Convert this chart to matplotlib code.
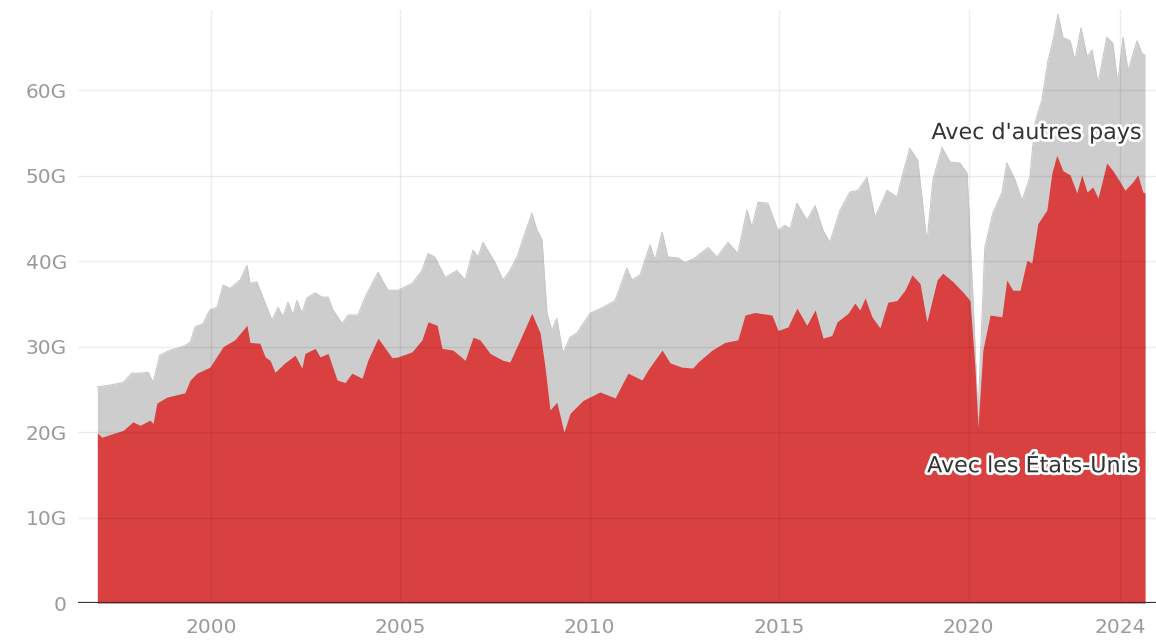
import matplotlib
matplotlib.use("Agg")
import matplotlib.pyplot as plt
import matplotlib.patheffects as pe

plt.rcParams['font.family'] = ['DejaVu Sans']

# Exports to the United States (G$), decimal-year dates
us_dates = [1997.0, 1997.12, 1997.39, 1997.68, 1997.94, 1998.13, 1998.39, 1998.47, 1998.57, 1998.84,
            1999.31, 1999.45, 1999.63, 1999.97, 2000.32, 2000.63, 2000.95, 2001.03, 2001.29, 2001.43,
            2001.56, 2001.69, 2001.95, 2002.22, 2002.40, 2002.48, 2002.75, 2002.88, 2003.09, 2003.33,
            2003.54, 2003.72, 2003.99, 2004.14, 2004.41, 2004.78, 2004.94, 2005.31, 2005.57, 2005.73,
            2005.97, 2006.10, 2006.39, 2006.71, 2006.92, 2007.10, 2007.37, 2007.71, 2007.89, 2008.16,
            2008.47, 2008.69, 2008.82, 2008.95, 2009.13, 2009.32, 2009.48, 2009.82, 2010.27, 2010.67,
            2011.01, 2011.38, 2011.54, 2011.91, 2012.12, 2012.43, 2012.72, 2012.86, 2013.23, 2013.57,
            2013.91, 2014.10, 2014.36, 2014.81, 2014.97, 2015.23, 2015.47, 2015.73, 2015.95, 2016.16,
            2016.39, 2016.53, 2016.82, 2017.00, 2017.13, 2017.27, 2017.45, 2017.66, 2017.87, 2018.11,
            2018.32, 2018.51, 2018.72, 2018.90, 2019.17, 2019.32, 2019.59, 2019.85, 2020.04, 2020.17,
            2020.25, 2020.38, 2020.57, 2020.88, 2021.01, 2021.17, 2021.36, 2021.54, 2021.67, 2021.83,
            2022.07, 2022.20, 2022.33, 2022.49, 2022.68, 2022.86, 2022.99, 2023.13, 2023.28, 2023.42,
            2023.65, 2023.81, 2024.00, 2024.13, 2024.34, 2024.47, 2024.60, 2024.66]
us_values = [19.9, 19.4, 19.8, 20.2, 21.2, 20.8, 21.4, 21.0, 23.4, 24.1,
             24.6, 26.1, 26.9, 27.6, 30.0, 30.8, 32.5, 30.5, 30.4, 28.8,
             28.4, 27.0, 28.1, 29.0, 27.5, 29.2, 29.8, 28.8, 29.2, 26.1,
             25.8, 26.9, 26.3, 28.4, 31.0, 28.7, 28.8, 29.4, 30.8, 32.9,
             32.5, 29.8, 29.6, 28.4, 31.1, 30.8, 29.2, 28.4, 28.2, 30.8,
             33.9, 31.6, 27.6, 22.6, 23.5, 20.0, 22.2, 23.7, 24.7, 24.0,
             26.9, 26.1, 27.3, 29.6, 28.1, 27.6, 27.5, 28.2, 29.6, 30.5,
             30.8, 33.7, 34.0, 33.7, 31.9, 32.3, 34.5, 32.5, 34.3, 31.0,
             31.3, 32.9, 33.9, 35.1, 34.3, 35.7, 33.5, 32.2, 35.2, 35.4,
             36.6, 38.4, 37.4, 32.9, 37.8, 38.6, 37.6, 36.4, 35.4, 27.6,
             20.6, 29.6, 33.7, 33.5, 37.8, 36.6, 36.6, 40.1, 39.8, 44.4,
             46.0, 50.3, 52.4, 50.6, 50.1, 48.0, 50.1, 48.1, 48.7, 47.4,
             51.5, 50.6, 49.3, 48.3, 49.3, 50.1, 48.1, 48.0]

# Total exports, all countries (G$)
total_dates = [1997.0, 1997.33, 1997.68, 1997.91, 1998.13, 1998.34, 1998.47, 1998.65, 1998.92, 1999.26,
               1999.45, 1999.58, 1999.79, 1999.97, 2000.16, 2000.32, 2000.50, 2000.77, 2000.95, 2001.03,
               2001.21, 2001.43, 2001.61, 2001.77, 2001.90, 2002.03, 2002.16, 2002.27, 2002.40, 2002.53,
               2002.75, 2002.93, 2003.09, 2003.22, 2003.46, 2003.62, 2003.88, 2004.07, 2004.41, 2004.67,
               2004.94, 2005.31, 2005.57, 2005.73, 2005.91, 2006.18, 2006.49, 2006.71, 2006.92, 2007.05,
               2007.18, 2007.50, 2007.71, 2007.89, 2008.08, 2008.29, 2008.47, 2008.61, 2008.74, 2008.87,
               2009.00, 2009.13, 2009.29, 2009.48, 2009.66, 2010.01, 2010.35, 2010.67, 2010.98, 2011.11,
               2011.33, 2011.59, 2011.72, 2011.91, 2012.06, 2012.33, 2012.51, 2012.78, 2013.12, 2013.36,
               2013.65, 2013.91, 2014.15, 2014.28, 2014.44, 2014.70, 2014.97, 2015.15, 2015.29, 2015.47,
               2015.73, 2015.95, 2016.16, 2016.34, 2016.61, 2016.87, 2017.08, 2017.32, 2017.53, 2017.85,
               2018.11, 2018.27, 2018.45, 2018.66, 2018.80, 2018.90, 2019.06, 2019.30, 2019.51, 2019.77,
               2019.96, 2020.12, 2020.25, 2020.43, 2020.64, 2020.88, 2021.01, 2021.23, 2021.41, 2021.62,
               2021.75, 2021.94, 2022.10, 2022.23, 2022.36, 2022.49, 2022.68, 2022.81, 2022.97, 2023.13,
               2023.26, 2023.42, 2023.65, 2023.81, 2023.94, 2024.08, 2024.21, 2024.45, 2024.58, 2024.66]
total_values = [25.3, 25.5, 25.8, 26.9, 26.9, 27.0, 25.8, 29.0, 29.6, 30.0,
                30.5, 32.3, 32.7, 34.3, 34.6, 37.2, 36.8, 37.8, 39.5, 37.4,
                37.6, 35.1, 33.1, 34.6, 33.5, 35.2, 33.7, 35.4, 33.9, 35.7,
                36.3, 35.8, 35.8, 34.3, 32.7, 33.7, 33.7, 35.8, 38.7, 36.6,
                36.6, 37.4, 38.9, 40.9, 40.5, 38.1, 38.9, 37.8, 41.3, 40.5,
                42.2, 39.8, 37.8, 38.9, 40.5, 43.3, 45.6, 43.6, 42.5, 33.9,
                31.9, 33.3, 29.2, 31.1, 31.6, 33.9, 34.6, 35.4, 39.2, 37.8,
                38.4, 41.9, 40.1, 43.4, 40.5, 40.4, 39.8, 40.4, 41.6, 40.5,
                42.2, 40.9, 46.0, 44.0, 46.9, 46.8, 43.6, 44.2, 43.8, 46.8,
                44.8, 46.5, 43.6, 42.2, 46.0, 48.1, 48.3, 49.8, 45.1, 48.3,
                47.5, 50.3, 53.2, 51.8, 46.3, 42.1, 49.5, 53.3, 51.6, 51.5,
                50.3, 35.4, 21.8, 41.6, 45.6, 48.0, 51.5, 49.5, 47.1, 49.8,
                56.1, 58.9, 63.5, 65.8, 68.9, 66.2, 65.8, 63.5, 67.3, 63.9,
                64.7, 60.8, 66.2, 65.5, 60.8, 66.2, 62.3, 65.8, 64.3, 64.1]

y_ticks = [0, 10, 20, 30, 40, 50, 60]
y_labels = ["0", "10G", "20G", "30G", "40G", "50G", "60G"]
x_ticks = [2000, 2005, 2010, 2015, 2020, 2024]
label_others = "Avec d'autres pays"
label_us = "Avec les États-Unis"

fig = plt.figure(figsize=(11.56, 6.40), dpi=100)
ax = fig.add_axes([0.0675, 0.0578, 0.9325, 0.9266])

ax.fill_between(total_dates, 0, total_values, color="#cdcdcd", lw=0, zorder=1)
ax.plot(total_dates, total_values, color="#c8c8c8", lw=0.8, zorder=1.5)
ax.fill_between(us_dates, 0, us_values, color="#d94141", lw=0, zorder=2)

ax.set_xlim(1996.49, 2024.95)
ax.set_ylim(0, 69.4)

for yv in y_ticks[1:]:
    ax.axhline(yv, color="black", alpha=0.07, lw=1.0, zorder=3)
for xv in x_ticks:
    ax.axvline(xv, color="black", alpha=0.07, lw=1.0, zorder=3)
ax.axhline(0, color="#333333", lw=1.6, zorder=4)

ax.set_yticks(y_ticks)
ax.set_yticklabels(y_labels)
ax.set_xticks(x_ticks)
ax.set_xticklabels([str(v) for v in x_ticks])
ax.tick_params(axis="both", length=0, labelsize=14.5, labelcolor="#9a9a9a")
ax.tick_params(axis="y", pad=8)
ax.tick_params(axis="x", pad=11)
for s in ax.spines.values():
    s.set_visible(False)

stroke = [pe.withStroke(linewidth=4, foreground="white")]
ax.text(2024.58, 55.0, label_others, ha="right", va="center", fontsize=16,
        color="#333333", path_effects=stroke, zorder=6)
ax.text(2024.5, 16.0, label_us, ha="right", va="center", fontsize=16,
        color="#333333", path_effects=stroke, zorder=6)

fig.savefig("out.png", dpi=100)
